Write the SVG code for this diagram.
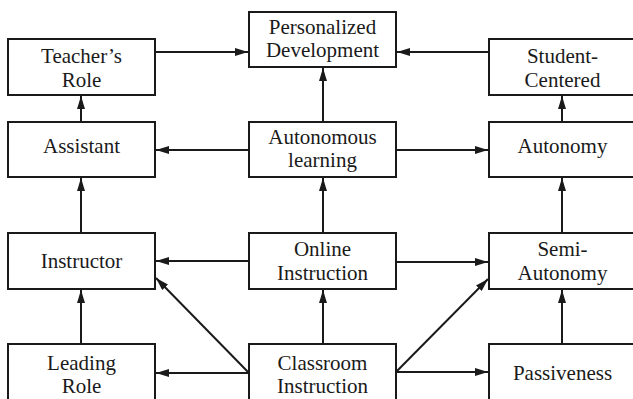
<svg xmlns="http://www.w3.org/2000/svg" width="633" height="399" viewBox="0 0 633 399">
<style>
.b{fill:#fff;stroke:#1a1a1a;stroke-width:2}
.t{font-family:"Liberation Serif","Times New Roman",serif;font-size:21px;fill:#1a1a1a;text-anchor:middle}
.c line{stroke:#1a1a1a;stroke-width:2;marker-end:url(#ah)}
</style>
<defs>
<marker id="ah" markerUnits="userSpaceOnUse" markerWidth="14" markerHeight="10" refX="13" refY="4" orient="auto">
<path d="M0,0 L13,4 L0,8 Z" fill="#1a1a1a"/>
</marker>
</defs>
<rect width="633" height="399" fill="#fff"/>
<g class="c" id="connectors">
<line x1="155" y1="52" x2="248" y2="52"/>
<line x1="489" y1="52" x2="397" y2="52"/>
<line x1="323" y1="122" x2="323" y2="68"/>
<line x1="249" y1="150" x2="156" y2="150"/>
<line x1="396" y1="150" x2="488" y2="150"/>
<line x1="81" y1="122" x2="81" y2="96"/>
<line x1="562" y1="122" x2="562" y2="96"/>
<line x1="81" y1="233" x2="81" y2="178"/>
<line x1="323" y1="233" x2="323" y2="178"/>
<line x1="562" y1="233" x2="562" y2="178"/>
<line x1="249" y1="261" x2="156" y2="261"/>
<line x1="396" y1="262" x2="488" y2="262"/>
<line x1="81" y1="344" x2="81" y2="290"/>
<line x1="323" y1="344" x2="323" y2="290"/>
<line x1="562" y1="344" x2="562" y2="290"/>
<line x1="249" y1="373" x2="156" y2="373"/>
<line x1="396" y1="372" x2="488" y2="372"/>
<line x1="249" y1="373" x2="156" y2="278"/>
<line x1="396" y1="372" x2="488" y2="279"/>
</g>
<g id="teachers-role"><rect class="b" x="8" y="39" width="147" height="56"/><text class="t" x="81.5" y="63">Teacher’s</text><text class="t" x="81.5" y="87">Role</text></g>
<g id="personalized-development"><rect class="b" x="249" y="12" width="147" height="55"/><text class="t" x="322.5" y="34">Personalized</text><text class="t" x="322.5" y="57">Development</text></g>
<g id="student-centered"><rect class="b" x="489" y="39" width="148" height="56"/><text class="t" x="562.5" y="63">Student-</text><text class="t" x="562.5" y="87">Centered</text></g>
<g id="assistant"><rect class="b" x="8" y="122" width="147" height="55"/><text class="t" x="81.5" y="153">Assistant</text></g>
<g id="autonomous-learning"><rect class="b" x="249" y="122" width="147" height="55"/><text class="t" x="322.5" y="144">Autonomous</text><text class="t" x="322.5" y="167">learning</text></g>
<g id="autonomy"><rect class="b" x="489" y="122" width="148" height="55"/><text class="t" x="562.5" y="153">Autonomy</text></g>
<g id="instructor"><rect class="b" x="8" y="233" width="147" height="56"/><text class="t" x="81.5" y="268">Instructor</text></g>
<g id="online-instruction"><rect class="b" x="249" y="233" width="147" height="56"/><text class="t" x="322.5" y="256">Online</text><text class="t" x="322.5" y="280">Instruction</text></g>
<g id="semi-autonomy"><rect class="b" x="489" y="233" width="148" height="56"/><text class="t" x="562.5" y="256">Semi-</text><text class="t" x="562.5" y="280">Autonomy</text></g>
<g id="leading-role"><rect class="b" x="8" y="344" width="147" height="66"/><text class="t" x="81.5" y="370">Leading</text><text class="t" x="81.5" y="393">Role</text></g>
<g id="classroom-instruction"><rect class="b" x="249" y="344" width="147" height="66"/><text class="t" x="322.5" y="370">Classroom</text><text class="t" x="322.5" y="393">Instruction</text></g>
<g id="passiveness"><rect class="b" x="489" y="344" width="148" height="66"/><text class="t" x="562.5" y="380">Passiveness</text></g>
</svg>
